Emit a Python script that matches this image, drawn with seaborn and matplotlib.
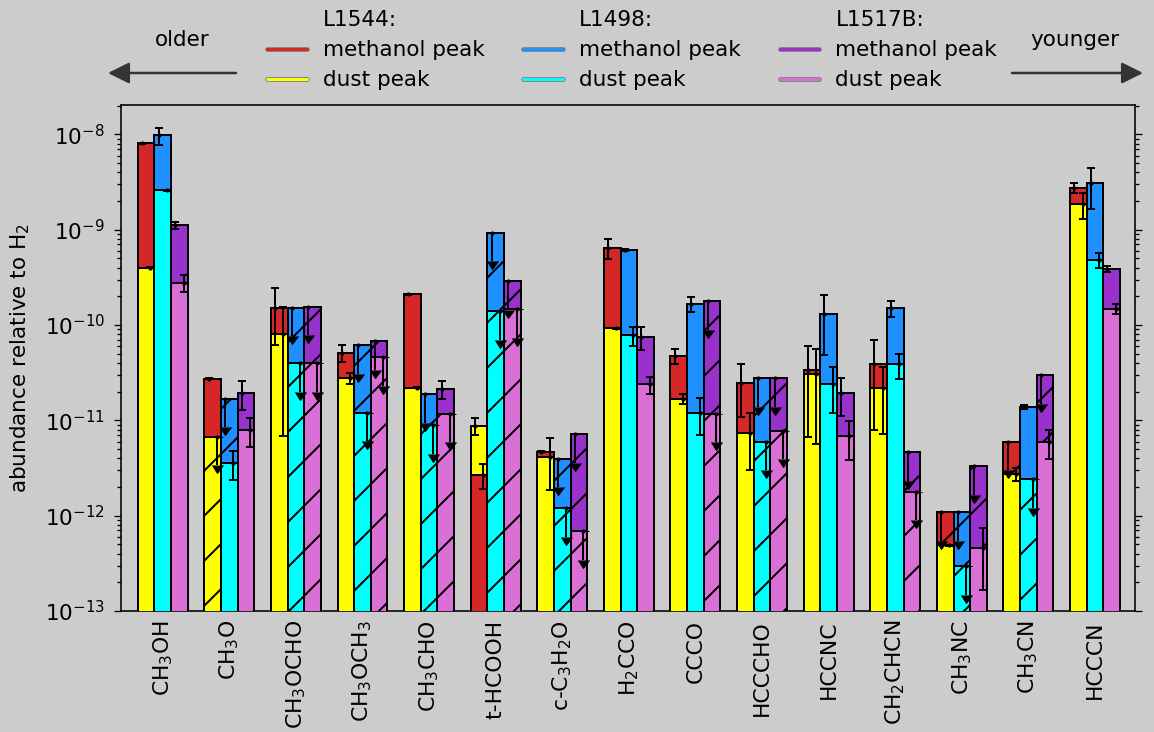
import numpy as np
import pandas as pd
import matplotlib
matplotlib.use("Agg")
import matplotlib.pyplot as plt
import matplotlib.patheffects as pe
from matplotlib.lines import Line2D
import seaborn as sns

# ---------------- data ----------------
molecules = ["CH$_3$OH", "CH$_3$O", "CH$_3$OCHO", "CH$_3$OCH$_3$", "CH$_3$CHO",
             "t-HCOOH", "c-C$_3$H$_2$O", "H$_2$CCO", "CCCO", "HCCCHO",
             "HCCNC", "CH$_2$CHCN", "CH$_3$NC", "CH$_3$CN", "HCCCN"]
sources = ["L1544", "L1498", "L1517B"]

# L1544 methanol peak
l1544_mp = [8.05e-9, 2.72e-11, 1.52e-10, 5.14e-11, 2.10e-10, 2.69e-12, 4.69e-12, 6.47e-10,
            4.76e-11, 2.48e-11, 3.37e-11, 3.90e-11, 1.08e-12, 5.97e-12, 2.75e-9]
l1544_mp_err = [1.0e-10, 3e-13, 9.0e-11, 1.0e-11, 2e-12, 8.0e-13, 6e-14, 1.5e-10,
                9.0e-12, 1.4e-11, 2.7e-11, 3.1e-11, 0, 0, 3.5e-10]
l1544_mp_ul = [0, 0, 0, 0, 0, 0, 0, 0, 0, 0, 0, 0, 1, 1, 0]
# L1544 dust peak
l1544_dp = [4.0e-10, 6.75e-12, 7.98e-11, 2.76e-11, 2.20e-11, 8.8e-12, 4.16e-12, 9.2e-11,
            1.68e-11, 7.43e-12, 3.06e-11, 2.17e-11, 4.92e-13, 2.73e-12, 1.87e-9]
l1544_dp_err = [5e-12, 0, 7.3e-11, 3.8e-12, 3e-13, 1.7e-12, 2.3e-12, 1.2e-12,
                2.0e-12, 4.4e-12, 2.5e-11, 1.45e-11, 6e-15, 4e-13, 5.7e-10]
l1544_dp_ul = [0, 1, 0, 0, 0, 0, 0, 0, 0, 0, 0, 0, 0, 0, 0]
# L1498 methanol peak
l1498_mp = [9.8e-9, 1.68e-11, 1.52e-10, 6.12e-11, 1.89e-11, 9.3e-10, 3.96e-12, 6.17e-10,
            1.67e-10, 2.76e-11, 1.29e-10, 1.50e-10, 1.08e-12, 1.38e-11, 3.06e-9]
l1498_mp_err = [2.0e-9, 0, 0, 0, 0, 0, 0, 1.5e-11,
                3.0e-11, 0, 8.0e-11, 2.9e-11, 0, 6e-13, 1.4e-9]
l1498_mp_ul = [0, 1, 1, 1, 1, 1, 1, 0, 0, 1, 0, 0, 1, 0, 0]
# L1498 dust peak
l1498_dp = [2.6e-9, 3.54e-12, 3.96e-11, 1.2e-11, 8.93e-12, 1.4e-10, 1.19e-12, 7.8e-11,
            1.2e-11, 5.97e-12, 2.39e-11, 3.87e-11, 2.97e-13, 2.4e-12, 4.8e-10]
l1498_dp_err = [3e-11, 1.2e-12, 0, 0, 0, 0, 0, 1.75e-11,
                5.0e-12, 0, 1.2e-11, 1.15e-11, 0, 0, 8.8e-11]
l1498_dp_ul = [0, 0, 1, 1, 1, 1, 1, 0, 0, 1, 0, 0, 1, 1, 0]
# L1517B methanol peak
l1517b_mp = [1.11e-9, 1.92e-11, 1.55e-10, 6.74e-11, 2.15e-11, 2.9e-10, 7.2e-12, 7.55e-11,
             1.77e-10, 2.76e-11, 1.95e-11, 4.61e-12, 3.32e-12, 2.96e-11, 3.87e-10]
l1517b_mp_err = [1.0e-10, 6.5e-12, 0, 0, 4.6e-12, 0, 0, 2.1e-11,
                 0, 0, 8.5e-12, 0, 0, 0, 2.5e-11]
l1517b_mp_ul = [0, 0, 1, 1, 0, 1, 1, 0, 1, 1, 0, 1, 1, 1, 0]
# L1517B dust peak
l1517b_dp = [2.78e-10, 7.93e-12, 3.96e-11, 4.58e-11, 1.17e-11, 1.47e-10, 6.9e-13, 2.39e-11,
             1.17e-11, 7.8e-12, 6.86e-12, 1.79e-12, 4.55e-13, 5.93e-12, 1.48e-10]
l1517b_dp_err = [5.5e-11, 2.7e-12, 0, 0, 0, 0, 0, 4.8e-12,
                 0, 0, 3.0e-12, 0, 2.9e-13, 2.0e-12, 1.7e-11]
l1517b_dp_ul = [0, 0, 1, 1, 1, 1, 1, 0, 1, 1, 0, 1, 0, 0, 0]

colors = {("L1544", "methanol"): "#d62728", ("L1544", "dust"): "#ffff00",
          ("L1498", "methanol"): "#1e90ff", ("L1498", "dust"): "#00ffff",
          ("L1517B", "methanol"): "#9932cc", ("L1517B", "dust"): "#da70d6"}
BG = "#cccccc"

series = {
    ("L1544", "methanol"): (l1544_mp, l1544_mp_err, l1544_mp_ul),
    ("L1544", "dust"): (l1544_dp, l1544_dp_err, l1544_dp_ul),
    ("L1498", "methanol"): (l1498_mp, l1498_mp_err, l1498_mp_ul),
    ("L1498", "dust"): (l1498_dp, l1498_dp_err, l1498_dp_ul),
    ("L1517B", "methanol"): (l1517b_mp, l1517b_mp_err, l1517b_mp_ul),
    ("L1517B", "dust"): (l1517b_dp, l1517b_dp_err, l1517b_dp_ul),
}
rows = []
for (src, peak), (vals, errs, uls) in series.items():
    for mol, v, e, u in zip(molecules, vals, errs, uls):
        rows.append(dict(molecule=mol, source=src, peak=peak, value=v, err=e, upper=bool(u)))
df = pd.DataFrame(rows)
rank = df.groupby(["molecule", "source"])["value"].rank(ascending=False, method="first")
df["layer"] = np.where(rank == 1, "back", "front")

# ---------------- style ----------------
DPI = 270
PX = 72.0 / DPI            # points per output pixel
FS = 21.5 * PX

sns.set_style("ticks")
plt.rcParams.update({
    "font.family": ["DejaVu Sans"],
    "hatch.linewidth": 2.0 * PX,
    "axes.linewidth": 1.6 * PX,
    "axes.edgecolor": "black",
    "xtick.color": "black", "ytick.color": "black",
    "text.color": "black", "axes.labelcolor": "black",
})

fig, ax = plt.subplots(figsize=(1154 / DPI, 732 / DPI), dpi=DPI)
fig.patch.set_facecolor(BG)
ax.set_facecolor(BG)
ax.set_yscale("log")

mol_idx = {m: i for i, m in enumerate(molecules)}
src_idx = {s: j for j, s in enumerate(sources)}

for layer in ["back", "front"]:
    sub = df[df["layer"] == layer]
    n0 = len(ax.patches)
    sns.barplot(data=sub, x="molecule", y="value", hue="source", order=molecules,
                hue_order=sources, palette=["#d62728", "#1e90ff", "#9932cc"],
                width=0.75, gap=0, dodge=True, errorbar=None, legend=False,
                saturation=1, edgecolor="black", linewidth=2.0 * PX, ax=ax)
    for p in ax.patches[n0:]:
        xc = p.get_x() + p.get_width() / 2
        i = int(round(xc))
        j = int(round((xc - i) / 0.25)) + 1
        r = sub[(sub["molecule"] == molecules[i]) & (sub["source"] == sources[j])].iloc[0]
        p.set_facecolor(colors[(r["source"], r["peak"])])
        p.set_zorder(2 if layer == "back" else 3)
        if r["upper"]:
            p.set_hatch("//")

# error bars and upper-limit arrows
df["xpos"] = (df["molecule"].map(mol_idx) + (df["source"].map(src_idx) - 1) * 0.25
              + np.where(df["layer"] == "back", -0.0625, 0.0625))
det = df[~df["upper"]]
ul = df[df["upper"]]
ax.errorbar(det["xpos"], det["value"], yerr=det["err"], fmt="none", color="black",
            ecolor="black", elinewidth=2.0 * PX, capsize=3.8 * PX, capthick=2.0 * PX,
            zorder=6)
ax.errorbar(ul["xpos"], ul["value"], yerr=ul["value"] * (1 - 10 ** -0.30), uplims=True,
            fmt="none", color="black", ecolor="black", elinewidth=2.0 * PX,
            capsize=5.5 * PX, capthick=1.0 * PX, zorder=6)
ax.plot(df["xpos"], df["value"], "o", ms=4.2 * PX, mew=0, color="black", zorder=7)

ax.set_ylim(1e-13, 2.05e-8)
ax.set_xlim(-0.626, 14.6)
ax.set_xlabel("")
ax.set_ylabel("abundance relative to H$_2$", fontsize=FS)
ax.yaxis.set_label_coords(-0.088, 0.5)

ax.tick_params(axis="x", length=0, rotation=90, labelsize=FS * 1.02, pad=9 * PX)
ax.tick_params(axis="y", which="both", left=True, right=True, direction="out",
               labelsize=FS, pad=9 * PX, width=1.3 * PX)
ax.tick_params(axis="y", which="major", length=7 * PX)
ax.tick_params(axis="y", which="minor", length=4 * PX)
for s in ax.spines.values():
    s.set_visible(True)
    s.set_linewidth(1.6 * PX)

fig.subplots_adjust(left=0.1049, right=0.9835, bottom=0.1653, top=0.857)

# legend
blank = Line2D([], [], color="none")


def lh(c):
    return Line2D([], [], color=c, lw=3.0 * PX,
                  path_effects=[pe.Stroke(linewidth=4.6 * PX, foreground="#777777"), pe.Normal()])


handles, labels = [], []
for s in sources:
    handles += [blank, lh(colors[(s, "methanol")]), lh(colors[(s, "dust")])]
    labels += [s + ":", "methanol peak", "dust peak"]
fig.legend(handles, labels, ncol=3, loc="upper center",
           bbox_to_anchor=(632 / 1154, 1 - 10 / 732), frameon=False, fontsize=FS,
           handlelength=1.85, handletextpad=0.75, columnspacing=1.80,
           labelspacing=0.47, borderpad=0, borderaxespad=0)

# older / younger arrows
arrow_kw = dict(arrowstyle="-|>", color="#333333", lw=2.5 * PX, mutation_scale=45 * PX,
                shrinkA=0, shrinkB=0)
yA = 1 - 73 / 732
fig.add_artist(plt.Annotation("", xy=(108 / 1154, yA), xytext=(236 / 1154, yA),
                              xycoords="figure fraction", textcoords="figure fraction",
                              arrowprops=arrow_kw))
fig.add_artist(plt.Annotation("", xy=(1143 / 1154, yA), xytext=(1012 / 1154, yA),
                              xycoords="figure fraction", textcoords="figure fraction",
                              arrowprops=arrow_kw))
fig.text(182 / 1154, 1 - 40 / 732, "older", ha="center", va="center", fontsize=FS)
fig.text(1075 / 1154, 1 - 40 / 732, "younger", ha="center", va="center", fontsize=FS)

fig.savefig("out.png", dpi=DPI, facecolor=BG)
